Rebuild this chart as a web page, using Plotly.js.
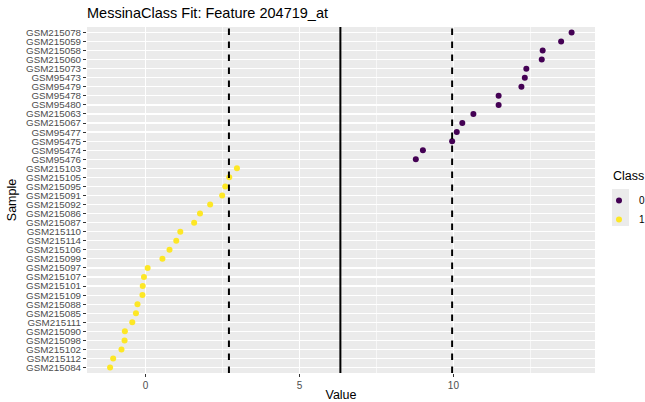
<!DOCTYPE html>
<html>
<head>
<meta charset="utf-8">
<script src="https://cdn.plot.ly/plotly-3.0.1.min.js"></script>
<style>html,body{margin:0;padding:0;background:#fff;}#chart{width:645px;height:402px;}</style>
</head>
<body>
<div id="chart"></div>
<script>
// Samples, top to bottom as displayed
const samples = ["GSM215078","GSM215059","GSM215058","GSM215060","GSM215073","GSM95473","GSM95479","GSM95478","GSM95480","GSM215063","GSM215067","GSM95477","GSM95475","GSM95474","GSM95476","GSM215103","GSM215105","GSM215095","GSM215091","GSM215092","GSM215086","GSM215087","GSM215110","GSM215114","GSM215106","GSM215099","GSM215097","GSM215107","GSM215101","GSM215109","GSM215088","GSM215085","GSM215111","GSM215090","GSM215098","GSM215102","GSM215112","GSM215084"];

const class0Samples = ["GSM215078","GSM215059","GSM215058","GSM215060","GSM215073","GSM95473","GSM95479","GSM95478","GSM95480","GSM215063","GSM215067","GSM95477","GSM95475","GSM95474","GSM95476"];
const class0Values = [13.84,13.50,12.90,12.87,12.37,12.32,12.21,11.47,11.47,10.65,10.29,10.11,9.96,9.01,8.78];

const class1Samples = ["GSM215103","GSM215105","GSM215095","GSM215091","GSM215092","GSM215086","GSM215087","GSM215110","GSM215114","GSM215106","GSM215099","GSM215097","GSM215107","GSM215101","GSM215109","GSM215088","GSM215085","GSM215111","GSM215090","GSM215098","GSM215102","GSM215112","GSM215084"];
const class1Values = [2.97,2.72,2.59,2.49,2.10,1.77,1.58,1.13,1.00,0.78,0.55,0.07,-0.05,-0.09,-0.10,-0.26,-0.31,-0.43,-0.67,-0.68,-0.78,-1.05,-1.15];

const thresholdLow = 2.71;
const thresholdHigh = 9.96;
const thresholdMid = 6.33;

const xTicks = [0, 5, 10];
const legendTitle = 'Class';

const traces = [
  {x: class0Values, y: class0Samples, type: 'scatter', mode: 'markers', name: '0',
   marker: {color: '#440154', size: 6}},
  {x: class1Values, y: class1Samples, type: 'scatter', mode: 'markers', name: '1',
   marker: {color: '#FDE725', size: 6}}
];

const lineShape = (x, dash) => ({type: 'line', xref: 'x', yref: 'paper', x0: x, x1: x, y0: 0, y1: 1,
  line: {color: '#000000', width: 2, dash: dash}, layer: 'above'});

// paper geometry helpers (plot area 87..595 x 27..373)
const W = 645, H = 402, L = 87, R = 50, T = 27, B = 29;
const pw = W - L - R, ph = H - T - B;
const px = v => (v - L) / pw;
const py = v => (H - B - v) / ph;

const layout = {
  width: W, height: H,
  margin: {l: L, r: R, t: T, b: B, autoexpand: false},
  paper_bgcolor: '#ffffff', plot_bgcolor: '#ebebeb',
  font: {family: 'Liberation Sans, Arial, sans-serif', color: '#000000'},
  title: {text: 'MessinaClass Fit: Feature 204719_at', font: {size: 14.5, color: '#000000'},
    xref: 'paper', x: 0, xanchor: 'left', yref: 'container', y: 0.969, yanchor: 'middle'},
  xaxis: {range: [-1.9, 14.6], tickmode: 'array', tickvals: xTicks, ticktext: xTicks.map(String),
    showgrid: true, gridcolor: '#ffffff', gridwidth: 1.2, zeroline: false,
    minor: {dtick: 2.5, tick0: 0, showgrid: true, gridcolor: '#ffffff', gridwidth: 0.6, ticks: ''},
    ticks: 'outside', ticklen: 3, tickcolor: '#333333', tickwidth: 1,
    tickfont: {size: 10, color: '#4d4d4d'}, showline: false,
    title: {text: 'Value', font: {size: 12.5, color: '#000000'}, standoff: 6}},
  yaxis: {type: 'category', categoryorder: 'array', categoryarray: samples,
    tickmode: 'array', tickvals: samples, ticktext: samples,
    range: [samples.length - 0.4, -0.6],
    showgrid: true, gridcolor: '#ffffff', gridwidth: 1.2, zeroline: false,
    ticks: 'outside', ticklen: 3, tickcolor: '#333333', tickwidth: 1,
    tickfont: {size: 9.8, color: '#4d4d4d'}, showline: false,
    title: {text: 'Sample', font: {size: 12.5, color: '#000000'}, standoff: 6}},
  showlegend: true,
  legend: {x: px(599), xanchor: 'left', y: py(186), yanchor: 'top',
    font: {size: 10, color: '#000000'}, bgcolor: 'rgba(0,0,0,0)', itemwidth: 30,
    tracegroupgap: 0},
  annotations: [{text: legendTitle, xref: 'paper', yref: 'paper', x: px(611), y: py(176),
    xanchor: 'left', yanchor: 'middle', showarrow: false, font: {size: 12.5, color: '#000000'}}],
  shapes: [
    {type: 'rect', xref: 'paper', yref: 'paper', x0: px(612), x1: px(629), y0: py(189), y1: py(226),
     fillcolor: '#ebebeb', line: {width: 0}, layer: 'below'},
    lineShape(thresholdLow, '6.5px,6.5px'), lineShape(thresholdHigh, '6.5px,6.5px'), lineShape(thresholdMid, 'solid')]
};

Plotly.newPlot('chart', traces, layout, {displayModeBar: false, staticPlot: true});
</script>
</body>
</html>
